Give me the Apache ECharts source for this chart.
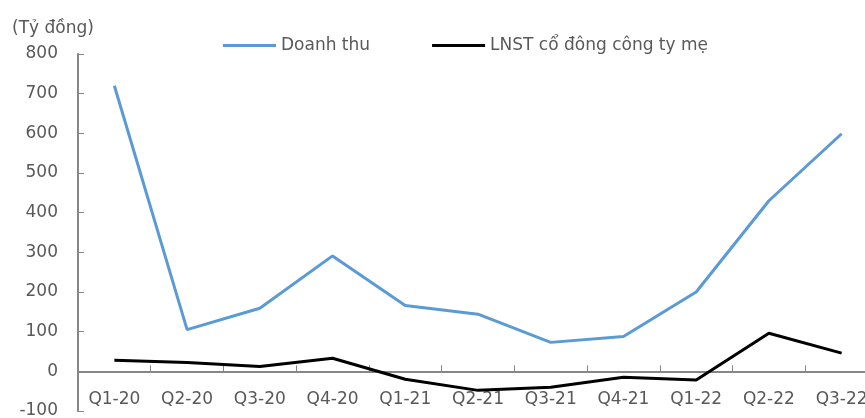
<!DOCTYPE html>
<html>
<head>
<meta charset="utf-8">
<script src="https://cdn.jsdelivr.net/npm/echarts@6/dist/echarts.min.js"></script>
<style>
  html, body { margin: 0; padding: 0; background: #fff; }
  #chart { width: 865px; height: 418px; }
</style>
</head>
<body>
<div id="chart"></div>
<script>
const categories = ['Q1-20', 'Q2-20', 'Q3-20', 'Q4-20', 'Q1-21', 'Q2-21', 'Q3-21', 'Q4-21', 'Q1-22', 'Q2-22', 'Q3-22'];
const doanhThu = [720, 105, 159, 291, 166, 144, 73, 88, 200, 430, 599];
const lnst = [28, 22, 12, 33, -20, -48, -40, -15, -22, 96, 46];
const yMin = -100;
const yMax = 800;
const yStep = 100;

const textColor = '#595959';
const axisColor = '#868686';
const font = 'DejaVu Sans';

const gridTop = 54;
const gridBottom = 7;
const plotH = 418 - gridTop - gridBottom;
// lift the category axis from the grid bottom up to the zero line
const zeroLift = plotH * (0 - yMin) / (yMax - yMin);

const chart = echarts.init(document.getElementById('chart'));

chart.setOption({
  animation: false,
  title: {
    text: '(Tỷ đồng)',
    left: 7,
    top: 15,
    textStyle: { color: textColor, fontFamily: font, fontSize: 17, fontWeight: 'normal' },
  },
  legend: {
    left: 223,
    top: 37,
    padding: 0,
    itemWidth: 53,
    itemHeight: 3,
    itemGap: 62,
    icon: 'rect',
    textStyle: { color: textColor, fontFamily: font, fontSize: 17 },
    data: ['Doanh thu', 'LNST cổ đông công ty mẹ'],
  },
  grid: {
    left: 78,
    right: -13,
    top: gridTop,
    bottom: gridBottom,
    outerBoundsMode: 'none',
  },
  xAxis: {
    type: 'category',
    data: categories,
    offset: -zeroLift,
    axisLine: { onZero: false, lineStyle: { color: axisColor, width: 2 } },
    axisTick: { show: true, inside: true, length: 6, lineStyle: { color: axisColor } },
    axisLabel: { show: true, color: textColor, fontFamily: font, fontSize: 17, margin: 20, interval: 0 },
  },
  yAxis: {
    type: 'value',
    min: yMin,
    max: yMax,
    interval: yStep,
    axisLine: { show: true, lineStyle: { color: axisColor, width: 2 } },
    axisTick: { show: true, inside: true, length: 6, lineStyle: { color: axisColor } },
    axisLabel: { color: textColor, fontFamily: font, fontSize: 17, margin: 20 },
    splitLine: { show: false },
  },
  series: [
    {
      name: 'Doanh thu',
      type: 'line',
      data: doanhThu,
      symbol: 'none',
      itemStyle: { color: '#5B9BD5' },
      lineStyle: { color: '#5B9BD5', width: 3 },
    },
    {
      name: 'LNST cổ đông công ty mẹ',
      type: 'line',
      data: lnst,
      symbol: 'none',
      itemStyle: { color: '#000000' },
      lineStyle: { color: '#000000', width: 3 },
    },
  ],
});
</script>
</body>
</html>
